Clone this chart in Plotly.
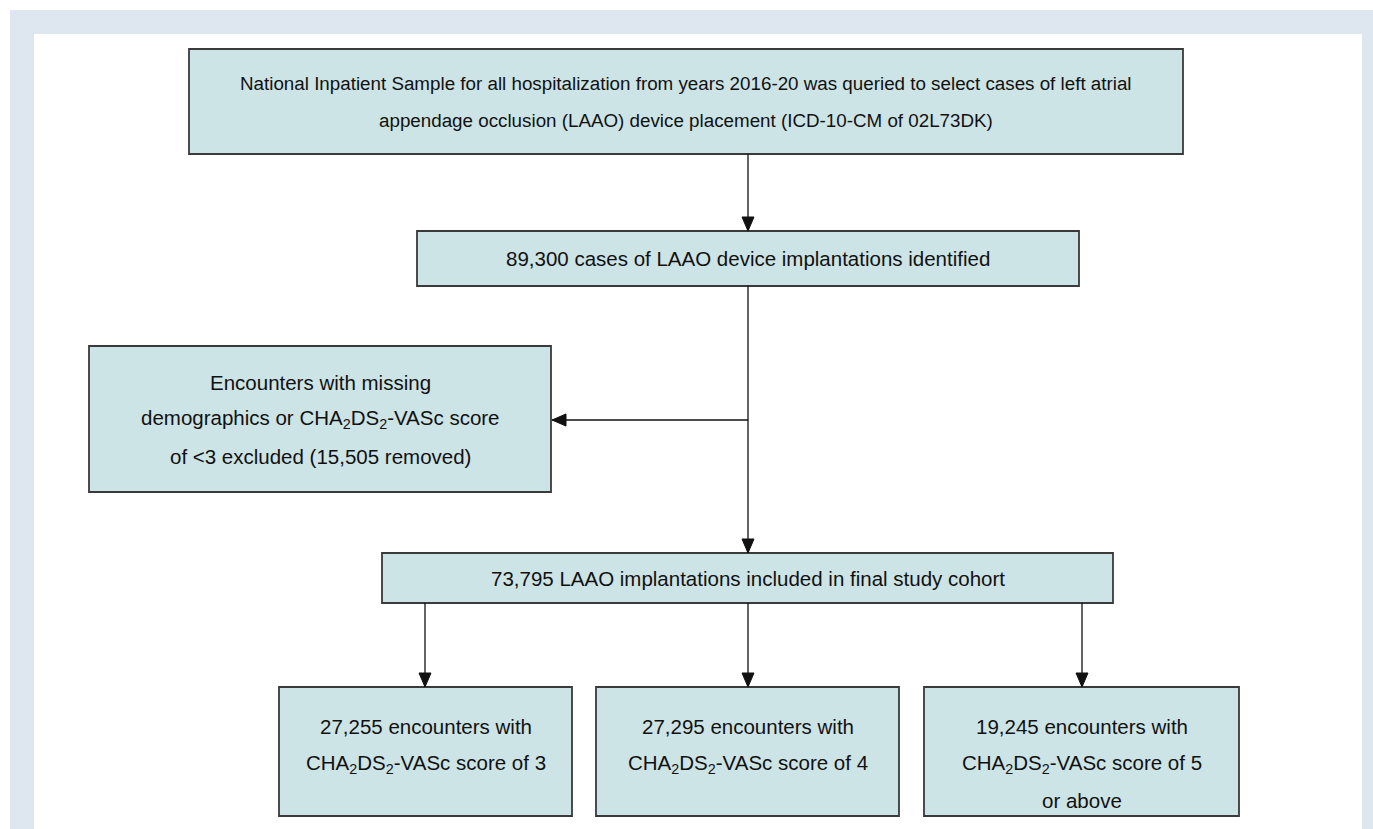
import plotly.graph_objects as go

# ---- data (text content of the flowchart) ----
box_names = ["source", "identified", "excluded", "cohort", "score3", "score4", "score5"]
box_lines = {
    "source": ["National Inpatient Sample for all hospitalization from years 2016-20 was queried to select cases of left atrial",
               "appendage occlusion (LAAO) device placement (ICD-10-CM of 02L73DK)"],
    "identified": ["89,300 cases of LAAO device implantations identified"],
    "excluded": ["Encounters with missing",
                 "demographics or CHA<sub>2</sub>DS<sub>2</sub>-VASc score",
                 "of <3 excluded (15,505 removed)"],
    "cohort": ["73,795 LAAO implantations included in final study cohort"],
    "score3": ["27,255 encounters with", "CHA<sub>2</sub>DS<sub>2</sub>-VASc score of 3"],
    "score4": ["27,295 encounters with", "CHA<sub>2</sub>DS<sub>2</sub>-VASc score of 4"],
    "score5": ["19,245 encounters with", "CHA<sub>2</sub>DS<sub>2</sub>-VASc score of 5", "or above"],
}

# ---- layout geometry (pixels) ----
W, H = 1373, 829
geom = {  # x0, x1, y0, y1
    "source": (189, 1183, 49, 154),
    "identified": (417, 1079, 231, 286),
    "excluded": (89, 551, 346, 492),
    "cohort": (382, 1113, 553, 603),
    "score3": (279, 572, 687, 816),
    "score4": (596, 899, 687, 816),
    "score5": (924, 1239, 687, 816),
}
font_size = {"source": 18.8}
DEFAULT_FS = 20.5
line_gap = 37
FILL = "#cde4e6"
EDGE = "#3a3a3a"
FRAME = "#dee7ef"

shapes = []
annotations = []

# frame
shapes.append(dict(type="rect", xref="x", yref="y", x0=10, x1=W + 20, y0=10, y1=H + 20,
                   fillcolor=FRAME, line=dict(width=0), layer="below"))
shapes.append(dict(type="rect", xref="x", yref="y", x0=34, x1=1362, y0=34, y1=H + 20,
                   fillcolor="white", line=dict(width=0), layer="below"))

for name in box_names:
    x0, x1, y0, y1 = geom[name]
    shapes.append(dict(type="rect", xref="x", yref="y", x0=x0, x1=x1, y0=y0, y1=y1,
                       fillcolor=FILL, line=dict(color=EDGE, width=1.8)))
    lines = box_lines[name]
    n = len(lines)
    cy = (y0 + y1) / 2
    if name in ("score3", "score4"):
        cy = y0 + 58
    if name == "score5":
        cy = y0 + 58 + 18.5
    for i, t in enumerate(lines):
        yy = cy + (i - (n - 1) / 2) * line_gap
        annotations.append(dict(x=(x0 + x1) / 2, y=yy, xref="x", yref="y", text=t,
                                showarrow=False, xanchor="center", yanchor="middle",
                                font=dict(family="Liberation Sans, Arial, sans-serif",
                                          size=font_size.get(name, DEFAULT_FS), color="#111111")))

def arrow(points, tip_dir):
    path = "M " + " L ".join(f"{x},{y}" for x, y in points)
    shapes.append(dict(type="path", xref="x", yref="y", path=path,
                       line=dict(color="#111111", width=1.3)))
    tx, ty = points[-1]
    if tip_dir == "down":
        tri = f"M {tx},{ty} L {tx-6},{ty-14} L {tx+6},{ty-14} Z"
    else:  # left
        tri = f"M {tx},{ty} L {tx+14},{ty-6} L {tx+14},{ty+6} Z"
    shapes.append(dict(type="path", xref="x", yref="y", path=tri,
                       fillcolor="#111111", line=dict(color="#111111", width=1)))

cx = 748
arrow([(cx, geom["source"][3]), (cx, geom["identified"][2])], "down")
arrow([(cx, geom["identified"][3]), (cx, geom["cohort"][2])], "down")
arrow([(cx, 420), (geom["excluded"][1] + 1, 420)], "left")
for nm, ax in (("score3", 425), ("score4", 748), ("score5", 1082)):
    arrow([(ax, geom["cohort"][3]), (ax, geom[nm][2])], "down")

fig = go.Figure()
fig.update_layout(
    width=W, height=H,
    margin=dict(l=0, r=0, t=0, b=0),
    paper_bgcolor="white", plot_bgcolor="white",
    xaxis=dict(range=[0, W], visible=False, fixedrange=True),
    yaxis=dict(range=[H, 0], visible=False, fixedrange=True),
    shapes=shapes, annotations=annotations, showlegend=False,
)
fig.write_html("out.html", config={"displayModeBar": False},
               post_script="document.body.style.margin='0';document.body.style.overflow='hidden';")
